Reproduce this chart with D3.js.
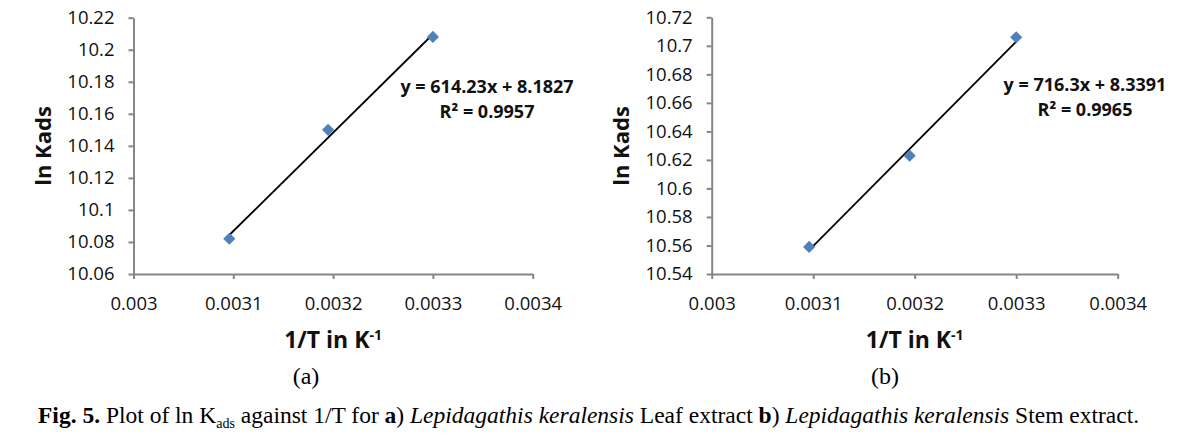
<!DOCTYPE html>
<html>
<head>
<meta charset="utf-8">
<script src="https://cdn.jsdelivr.net/npm/d3@7"></script>
<style>
  body { margin: 0; background: #fff; }
  svg { display: block; }
</style>
</head>
<body>
<svg id="fig" width="1189" height="435"></svg>
<script>
// data
const invT = [0.003096, 0.003195, 0.0033];
const lnKadsLeaf = [10.082, 10.150, 10.208];
const lnKadsStem = [10.559, 10.623, 10.706];
const xTicks = [0.003, 0.0031, 0.0032, 0.0033, 0.0034];
const leafYTicks = [10.06, 10.08, 10.1, 10.12, 10.14, 10.16, 10.18, 10.2, 10.22];
const stemYTicks = [10.54, 10.56, 10.58, 10.6, 10.62, 10.64, 10.66, 10.68, 10.7, 10.72];
const leafFit = [614.23, 8.1827, "0.9957"]; // slope, intercept, R²
const stemFit = [716.3, 8.3391, "0.9965"];
const panelTags = ["(a)", "(b)"];

const SVG = d3.select("#fig");
const AXIS_COR = "#868686";
const MARK_COR = "#4f81bd";
const SANS = "'Open Sans', Lato, sans-serif";
const SERIF = "'Liberation Serif', 'Times New Roman', serif";

/** 画一个面板 **/
function draw_panel(p) {
    let g = SVG.append("g");
    const X = d3.scaleLinear().domain([xTicks[0], xTicks[xTicks.length - 1]]).range([p.x0, p.x1]);
    const Y = d3.scaleLinear().domain([p.yTicks[0], p.yTicks[p.yTicks.length - 1]]).range([274, p.yTop]);

    // y axis
    let ya = g.append("g").attr("transform", `translate(${p.x0},0)`)
        .call(d3.axisLeft(Y).tickValues(p.yTicks).tickFormat(d3.format("")).tickSize(5).tickSizeOuter(0).tickPadding(14));
    // x axis
    let xa = g.append("g").attr("transform", "translate(0,274)")
        .call(d3.axisBottom(X).tickValues(xTicks).tickFormat(d3.format("")).tickSize(5).tickSizeOuter(0));
    for (let a of [ya, xa]) {
        a.select(".domain").attr("stroke", AXIS_COR).attr("stroke-width", 2);
        a.selectAll(".tick line").attr("stroke", AXIS_COR).attr("stroke-width", 2);
        a.selectAll("text").attr("font-family", SANS).attr("font-size", 18.5).attr("fill", "#111");
    }
    xa.selectAll("text").attr("y", 36).attr("dy", null);

    // trend line
    let [k, b, r2] = p.fit;
    let xs = [invT[0], invT[invT.length - 1]];
    g.append("line")
        .attr("x1", X(xs[0])).attr("y1", Y(k * xs[0] + b))
        .attr("x2", X(xs[1])).attr("y2", Y(k * xs[1] + b))
        .attr("stroke", "#000").attr("stroke-width", 1.8);

    // points (diamonds)
    g.selectAll(".pt").data(invT.map((d, i) => [d, p.ys[i]])).join("path")
        .attr("d", d3.symbol(d3.symbolDiamond2, 95))
        .attr("transform", d => `translate(${X(d[0])},${Y(d[1])})`)
        .attr("fill", MARK_COR);

    // equation
    let eq = g.append("text").attr("font-family", SANS).attr("font-weight", "bold")
        .attr("font-size", 18).attr("text-anchor", "middle").attr("fill", "#111");
    eq.append("tspan").attr("x", p.eqX).attr("y", p.eqY).text(`y = ${k}x + ${b}`);
    eq.append("tspan").attr("x", p.eqX).attr("y", p.eqY + 25).text(`R² = ${r2}`);

    // axis titles
    g.append("text")
        .attr("transform", `translate(${p.x0 - 83},146) rotate(-90)`)
        .attr("text-anchor", "middle").attr("font-family", SANS).attr("font-weight", "bold")
        .attr("font-size", 22).attr("fill", "#111").text("ln Kads");
    let xt = g.append("text")
        .attr("x", (p.x0 + p.x1) / 2).attr("y", 348)
        .attr("text-anchor", "middle").attr("font-family", SANS).attr("font-weight", "bold")
        .attr("font-size", 23).attr("fill", "#111");
    xt.append("tspan").text("1/T in K");
    xt.append("tspan").attr("font-size", 14).attr("dy", -8).text("-1");

    g.append("text").attr("x", p.tagX).attr("y", 384).attr("text-anchor", "middle")
        .attr("font-family", SERIF).attr("font-size", 24).text(p.tag);
}

draw_panel({x0: 133.5, x1: 532.7, yTop: 17.7, yTicks: leafYTicks, ys: lnKadsLeaf, fit: leafFit,
    eqX: 487, eqY: 93, tagX: 306, tag: panelTags[0]});
draw_panel({x0: 711.7, x1: 1117.7, yTop: 17.3, yTicks: stemYTicks, ys: lnKadsStem, fit: stemFit,
    eqX: 1085, eqY: 91, tagX: 885, tag: panelTags[1]});

/** 图注 **/
let cap = SVG.append("text").attr("x", 38).attr("y", 423)
    .attr("font-family", SERIF).attr("font-size", 23.5).attr("fill", "#000");
const parts = [
    ["Fig. 5.", "b"], [" Plot of ln K", ""], ["ads", "sub"], [" against 1/T for ", ""],
    ["a", "b"], [") ", ""], ["Lepidagathis keralensis", "i"], [" Leaf extract ", ""],
    ["b", "b"], [") ", ""], ["Lepidagathis keralensis", "i"], [" Stem extract.", ""]
];
for (let [t, s] of parts) {
    let ts = cap.append("tspan").text(t);
    if (s === "b") ts.attr("font-weight", "bold");
    if (s === "i") ts.attr("font-style", "italic");
    if (s === "sub") ts.attr("font-size", 14).attr("dy", 5);
    if (t === " against 1/T for ") ts.attr("dy", -5);
}
</script>
</body>
</html>
